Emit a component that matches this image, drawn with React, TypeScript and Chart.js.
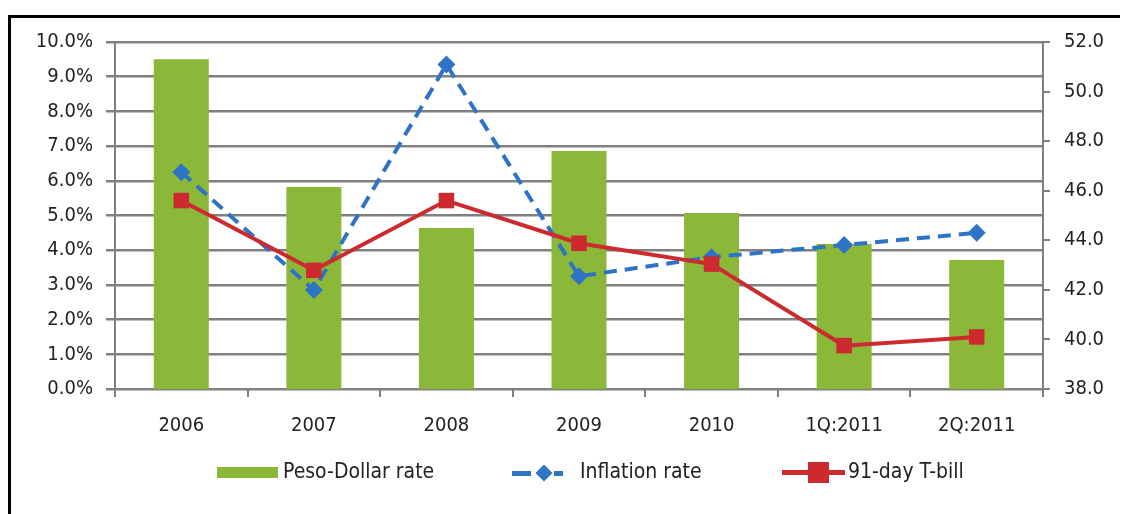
import React, { useEffect, useRef } from "react";
import { Chart, registerables } from "chart.js";

Chart.register(...registerables);

const categories = ["2006", "2007", "2008", "2009", "2010", "1Q:2011", "2Q:2011"];
const pesoDollar = [51.3, 46.15, 44.5, 47.6, 45.1, 43.85, 43.2];
const inflation = [6.25, 2.85, 9.35, 3.25, 3.8, 4.15, 4.5];
const tbill = [5.43, 3.42, 5.43, 4.2, 3.6, 1.25, 1.5];
const leftTicks = { min: 0, max: 10, step: 1 };
const rightTicks = { min: 38, max: 52, step: 2 };

const FONT = "'Liberation Sans Narrow', 'DejaVu Sans Condensed', 'Open Sans', sans-serif";
const GREEN = "#8cb83a";
const BLUE = "#2f73c6";
const RED = "#cc2a2e";
const GRID = "#808080";

export default function App() {
  const ref = useRef<HTMLCanvasElement | null>(null);
  useEffect(() => {
    if (!ref.current) return;
    const chart = new Chart(ref.current, {
      type: "bar",
      data: {
        labels: categories,
        datasets: [
          {
            type: "line",
            label: "91-day T-bill",
            data: tbill,
            yAxisID: "y",
            borderColor: RED,
            backgroundColor: RED,
            borderWidth: 4,
            pointStyle: "rect",
            pointRadius: 11,
            pointBorderWidth: 0,
            tension: 0,
            order: 0,
          },
          {
            type: "line",
            label: "Inflation rate",
            data: inflation,
            yAxisID: "y",
            borderColor: BLUE,
            backgroundColor: BLUE,
            borderWidth: 4,
            borderDash: [13, 8],
            pointStyle: "rectRot",
            pointRadius: 9,
            pointBorderWidth: 0,
            tension: 0,
            order: 1,
          },
          {
            type: "bar",
            label: "Peso-Dollar rate",
            data: pesoDollar,
            yAxisID: "y1",
            backgroundColor: GREEN,
            categoryPercentage: 1,
            barPercentage: 0.415,
            order: 2,
          },
        ],
      },
      options: {
        animation: false,
        responsive: false,
        layout: { padding: { left: 0, right: 0, top: 42, bottom: 0 } },
        plugins: { legend: { display: false }, tooltip: { enabled: false } },
        scales: {
          x: {
            type: "category",
            offset: true,
            grid: {
              display: true,
              drawOnChartArea: false,
              drawTicks: true,
              tickLength: 8,
              color: GRID,
              lineWidth: 2,
              offset: true,
            },
            border: { display: true, color: GRID, width: 2 },
            ticks: {
              color: "#222",
              font: { family: FONT, size: 20 },
              padding: 17,
              maxRotation: 0,
            },
            afterFit: (s: any) => {
              s.height = 125;
            },
          },
          y: {
            position: "left",
            min: leftTicks.min,
            max: leftTicks.max,
            ticks: {
              stepSize: leftTicks.step,
              color: "#222",
              font: { family: FONT, size: 20 },
              padding: 13,
              callback: (v: any) => Number(v).toFixed(1) + "%",
            },
            grid: { color: GRID, lineWidth: 2.5, tickLength: 9, drawTicks: true },
            border: { display: true, color: GRID, width: 2 },
            afterFit: (s: any) => {
              s.width = 115;
            },
          },
          y1: {
            position: "right",
            min: rightTicks.min,
            max: rightTicks.max,
            ticks: {
              stepSize: rightTicks.step,
              color: "#222",
              font: { family: FONT, size: 20 },
              padding: 14,
              callback: (v: any) => Number(v).toFixed(1),
            },
            grid: { drawOnChartArea: false, drawTicks: true, tickLength: 7, color: GRID, lineWidth: 2 },
            border: { display: true, color: GRID, width: 2 },
            afterFit: (s: any) => {
              s.width = 79;
            },
          },
        },
      },
    });
    return () => chart.destroy();
  }, []);

  const legendText: React.CSSProperties = {
    position: "absolute",
    top: 459,
    fontFamily: FONT,
    fontSize: 21,
    color: "#222",
    lineHeight: "24px",
    whiteSpace: "nowrap",
  };

  return (
    <div style={{ position: "absolute", left: 0, top: 0, width: 1122, height: 514, overflow: "hidden", background: "#fff" }}>
      <canvas ref={ref} width={1122} height={514} style={{ position: "absolute", left: 0, top: 0, width: 1122, height: 514 }} />
      <div
        style={{
          position: "absolute",
          left: 8,
          top: 15,
          width: 1112,
          height: 520,
          borderLeft: "3px solid #000",
          borderTop: "3px solid #000",
          boxSizing: "border-box",
          pointerEvents: "none",
        }}
      />
      {/* Legend */}
      <div style={{ position: "absolute", left: 217, top: 467, width: 61, height: 11, background: GREEN }} />
      <div style={{ ...legendText, left: 283 }}>Peso-Dollar rate</div>

      <div style={{ position: "absolute", left: 512, top: 471, width: 19, height: 5, background: BLUE }} />
      <div style={{ position: "absolute", left: 554, top: 471, width: 9, height: 5, background: BLUE }} />
      <div
        style={{
          position: "absolute",
          left: 538,
          top: 467,
          width: 12,
          height: 12,
          background: BLUE,
          transform: "rotate(45deg)",
        }}
      />
      <div style={{ ...legendText, left: 580 }}>Inflation rate</div>

      <div style={{ position: "absolute", left: 782, top: 470, width: 63, height: 5, background: RED }} />
      <div style={{ position: "absolute", left: 808, top: 462, width: 21, height: 21, background: RED }} />
      <div style={{ ...legendText, left: 848 }}>91-day T-bill</div>
    </div>
  );
}
